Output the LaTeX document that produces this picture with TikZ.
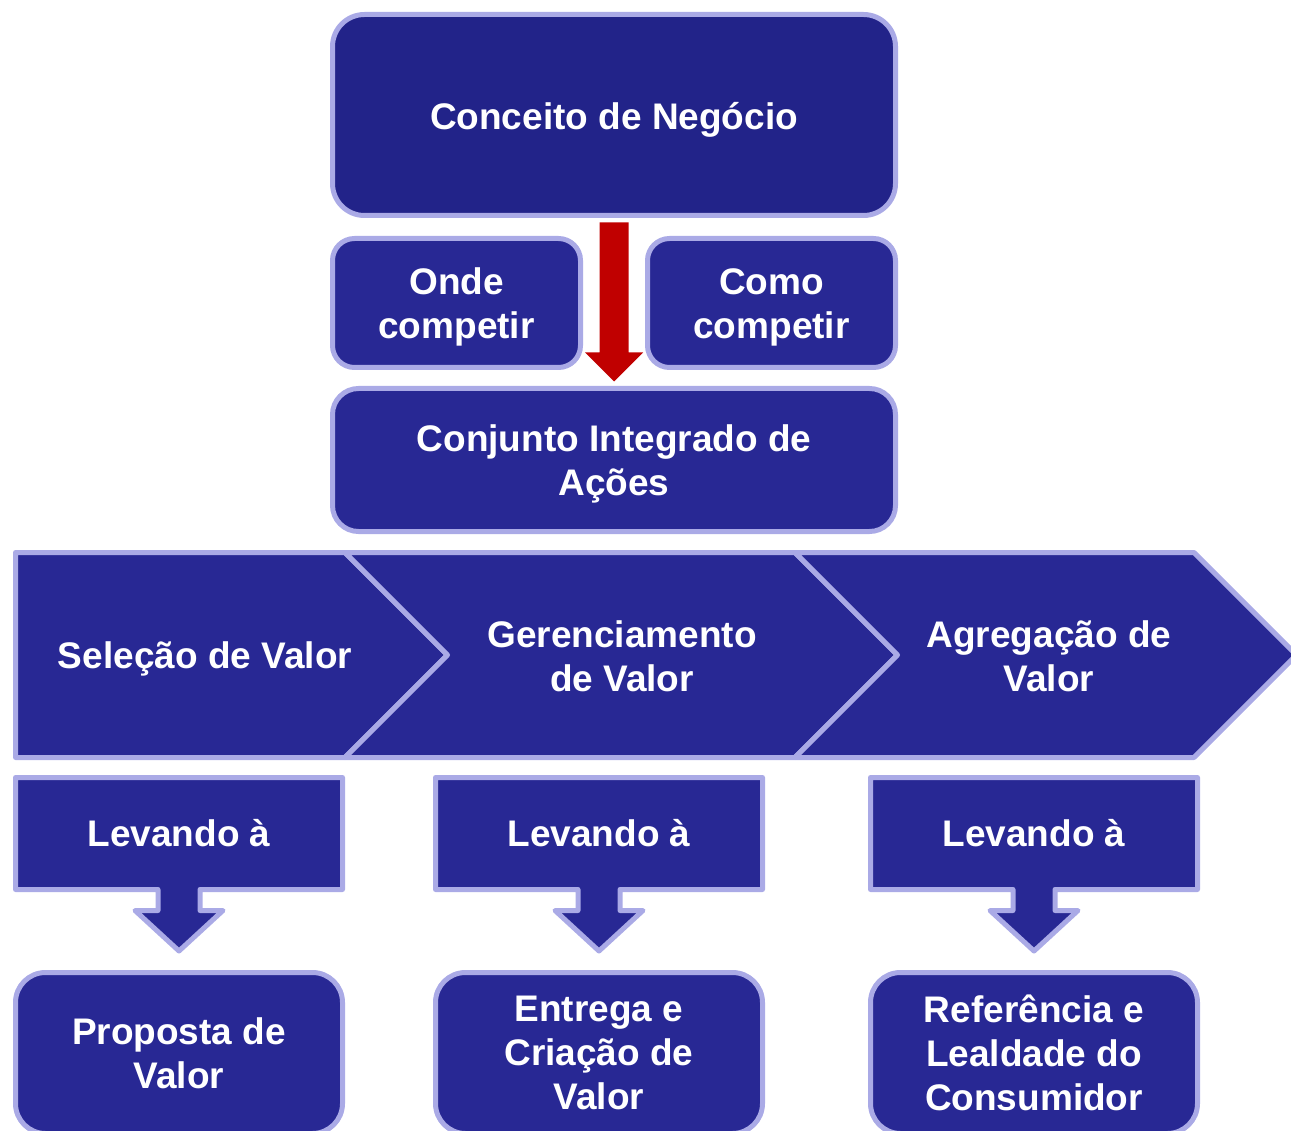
\documentclass[tikz,border=0pt]{standalone}
\usepackage{fontspec}
\setmainfont{Liberation Sans}
\usetikzlibrary{calc}
\definecolor{topfill}{RGB}{34,35,137}
\definecolor{boxfill}{RGB}{40,40,148}
\definecolor{edgecol}{RGB}{170,170,230}
\definecolor{redarrow}{RGB}{192,0,0}
\begin{document}
\begin{tikzpicture}[x=1pt,y=-1pt,
  lbl/.style={text=white,font=\fontsize{37}{44}\selectfont\bfseries,align=center,inner sep=0pt},
  rbox/.style={draw=edgecol,line width=5pt,fill=boxfill,rounded corners=#1,inner sep=0pt},
  rbox/.default=20pt,
  shapeline/.style={draw=edgecol,line width=5pt,fill=boxfill,line join=round}]
\useasboundingbox (0,0) rectangle (1291,1131);

% top boxes
\node[rbox=32pt,fill=topfill,minimum width=563pt,minimum height=201pt] (concept) at (614,115) {};
\node[rbox=22pt,minimum width=248pt,minimum height=129pt] (onde) at (456.5,303) {};
\node[rbox=22pt,minimum width=248pt,minimum height=129pt] (como) at (771.5,303) {};
\node[rbox=26pt,minimum width=563pt,minimum height=143pt] (conj) at (614,460) {};
\node[lbl] (conceptT) at ([yshift=-5pt]concept.center) {Conceito de Negócio};
\node[lbl] (ondeT) at ([yshift=-4pt]onde.center) {Onde\\competir};
\node[lbl] (comoT) at ([yshift=-4pt]como.center) {Como\\competir};
\node[lbl] (conjT) at ([yshift=-4pt]conj.center) {Conjunto Integrado de\\Ações};

% red block arrow
\fill[redarrow] ($(concept.south)+(-14.5,4.5)$) -- ($(concept.south)+(14.5,4.5)$)
  -- ($(conj.north)+(14.5,-33.5)$) -- ($(conj.north)+(29,-33.5)$)
  -- ($(conj.north)+(0,-4.5)$)
  -- ($(conj.north)+(-29,-33.5)$) -- ($(conj.north)+(-14.5,-33.5)$) -- cycle;

% chevrons
\path[shapeline] (15.5,552.5) -- (345,552.5) -- (447.5,655) -- (345,757.5) -- (15.5,757.5) -- cycle;
\path[shapeline] (345,552.5) -- (795,552.5) -- (897.5,655) -- (795,757.5) -- (345,757.5) -- (447.5,655) -- cycle;
\path[shapeline] (795,552.5) -- (1194,552.5) -- (1296.5,655) -- (1194,757.5) -- (795,757.5) -- (897.5,655) -- cycle;
\node[lbl] (sel) at (205,659) {Seleção de Valor};
\node[lbl] (ger) at (622,656) {Gerenciamento\\de Valor};
\node[lbl] (agr) at (1049,656) {Agregação de\\Valor};

% callouts
\foreach \cx/\nm in {179/a,599/b,1034/c}{
  \path[shapeline] (\cx-163.5,777.5) -- (\cx+163.5,777.5) -- (\cx+163.5,889.5)
    -- (\cx+21,889.5) -- (\cx+21,910.5) -- (\cx+44,910.5) -- (\cx,951)
    -- (\cx-44,910.5) -- (\cx-21,910.5) -- (\cx-21,889.5) -- (\cx-163.5,889.5) -- cycle;
  \node[lbl] (lev\nm) at (\cx,833) {Levando à};
}

% result boxes
\node[rbox=30pt,lbl,minimum width=327pt,minimum height=161pt] (resa) at (179,1053) {Proposta de\\Valor};
\node[rbox=30pt,lbl,minimum width=327pt,minimum height=161pt] (resb) at (599,1053) {Entrega e\\Criação de\\Valor};
\node[rbox=30pt,lbl,minimum width=327pt,minimum height=161pt] (resc) at (1034,1053) {Referência e\\Lealdade do\\Consumidor};
\end{tikzpicture}
\end{document}
